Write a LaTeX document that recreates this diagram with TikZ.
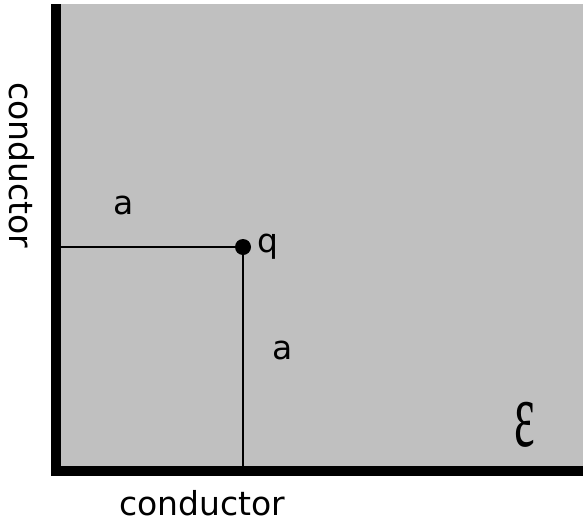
\documentclass[tikz,border=0pt]{standalone}
\usepackage{fontspec}
\setmainfont{DejaVu Sans}
\newfontfamily\epsfont{Liberation Serif}
\usepackage{xcolor}
\usepackage{tikz}
\usetikzlibrary{positioning}
\definecolor{regiongray}{RGB}{192, 192, 192}

\begin{document}
\begin{tikzpicture}[x=1pt, y=-1pt]
    % Styles
    \tikzstyle{label} = [font=\fontsize{33}{36}\selectfont, inner sep=0pt]
    \tikzstyle{wall} = [line width=10pt, line join=miter]
    \tikzstyle{dist} = [line width=1.6pt]
    \tikzstyle{charge} = [circle, fill=black, minimum size=16pt, inner sep=0pt]

    \useasboundingbox (0,0) rectangle (583,522);

    % Region
    \fill [regiongray] (55,4) rectangle (583,470);
    \draw [wall] (55.5,4) -- (55.5,470.5) -- (583,470.5);

    % Nodes
    \node [charge] (q) at (243,247) {};
    \coordinate (leftwall) at (61,247);
    \coordinate (bottomwall) at (243,466);
    \node [label, right=6pt of q] (qlabel) {q};
    \node [label] (ahoriz) at (124,205) {a};
    \node [label] (avert) at (283,350) {a};
    \node [font=\epsfont, inner sep=0pt, xscale=4.9, yscale=9.4] (eps) at (525,425) {ε};
    \node [label, rotate=-90] (leftcond) at (22,165) {conductor};
    \node [label] (bottomcond) at (202,503) {conductor};

    % Lines
    \draw [dist] (leftwall) -- (q.center);
    \draw [dist] (q.center) -- (bottomwall);
\end{tikzpicture}
\end{document}
